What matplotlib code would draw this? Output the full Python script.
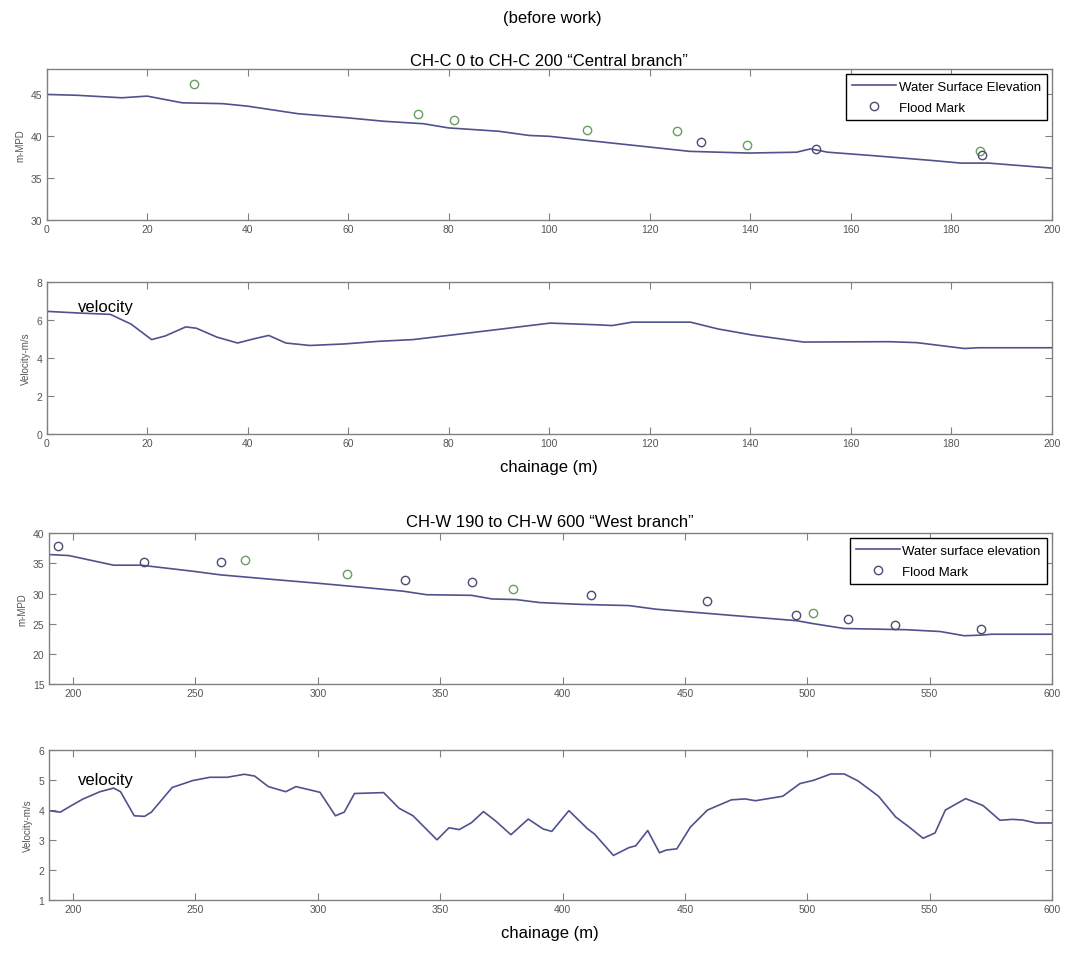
import numpy as np
import matplotlib
matplotlib.use("Agg")
from matplotlib import pyplot as plt

plt.rcParams["font.family"] = ["Liberation Sans", "DejaVu Sans"]

# ---- Central branch: water surface elevation ----
c_x = [0, 6, 15, 20, 27, 35, 40, 50, 60, 67, 75, 80, 90, 96, 100, 107.7, 128, 139.7, 149.2, 152, 155.4,
       164.2, 176.4, 181.9, 187.4, 200]
c_wse = [45.0, 44.9, 44.6, 44.8, 44.0, 43.9, 43.6, 42.7, 42.2, 41.8, 41.5, 41.0, 40.6, 40.1, 40.0, 39.5,
         38.2, 38.0, 38.1, 38.5, 38.1, 37.7, 37.1, 36.8, 36.8, 36.2]

# flood marks (g = green, b = dark)
c_fm_x = [29.4, 73.8, 81.1, 107.6, 125.5, 130.2, 139.4, 153.0, 185.6, 186.0]
c_fm_y = [46.2, 42.65, 41.95, 40.7, 40.6, 39.3, 38.95, 38.5, 38.2, 37.8]
c_fm_c = ["g", "g", "g", "g", "g", "b", "g", "b", "g", "b"]

# ---- Central branch: velocity ----
cv_x = [0, 6.5, 12.7, 16.8, 20.9, 23.6, 27.7, 29.8, 33.9, 38.0, 41.4, 44.2, 47.6, 52.4, 59.2, 66.1, 72.9,
        81.8, 90.0, 96.1, 100.2, 109.7, 112.5, 116.5, 128.1, 133.6, 140.4, 150.6, 167.6, 173.1, 182.6,
        185.3, 200]
cv_v = [6.45, 6.36, 6.29, 5.78, 4.96, 5.15, 5.63, 5.56, 5.09, 4.78, 5.01, 5.18, 4.78, 4.65, 4.73, 4.87,
        4.96, 5.24, 5.50, 5.70, 5.83, 5.74, 5.70, 5.88, 5.88, 5.52, 5.20, 4.83, 4.85, 4.80, 4.49, 4.53, 4.53]

# ---- West branch: water surface elevation ----
w_x = [190.6, 198.3, 216.6, 227.8, 248.9, 260.2, 282.7, 300.2, 316.4, 334.7, 344.5, 362.8, 371.2, 381,
       390.7, 407.5, 427.1, 438.2, 456.4, 477.4, 495.6, 502.5, 515.1, 540.3, 554.3, 564.1, 571, 575.2, 600]
w_wse = [36.46, 36.3, 34.7, 34.7, 33.7, 33.1, 32.3, 31.7, 31.1, 30.4, 29.8, 29.7, 29.1, 29.0, 28.5, 28.2,
         28.0, 27.4, 26.8, 26.1, 25.5, 25.0, 24.2, 24.0, 23.7, 23.0, 23.1, 23.25, 23.25]

w_fm_x = [193.7, 228.9, 260.6, 270.3, 311.8, 335.6, 363.2, 379.6, 411.7, 459.2, 495.3, 502.3, 516.5,
          535.8, 571.0]
w_fm_y = [37.9, 35.3, 35.3, 35.5, 33.3, 32.2, 31.9, 30.7, 29.7, 28.7, 26.5, 26.7, 25.7, 24.85, 24.05]
w_fm_c = ["b", "b", "b", "g", "g", "b", "b", "g", "b", "b", "b", "g", "b", "b", "b"]

# ---- West branch: velocity ----
wv_x = [190, 194.8, 198.3, 203.9, 211, 216.6, 219.4, 225, 229.2, 232, 240.5, 248.9, 255.9, 263, 270,
        274.2, 279.8, 286.9, 291.1, 300.9, 307.2, 310.8, 315, 326.9, 333.2, 338.9, 348.7, 353.6, 357.8,
        362.8, 367.7, 372.6, 378.9, 386, 392.1, 395.6, 402.6, 410.3, 413.1, 420.8, 427.1, 429.9, 434.8,
        439.6, 442.4, 446.7, 452.2, 459.2, 469, 474.6, 478.8, 490, 497, 502.6, 509.6, 515.1, 520.7,
        529.1, 536.1, 541.7, 547.3, 552.2, 556.4, 564.7, 571.8, 578.7, 583.7, 587.9, 593.5, 600]
wv_v = [3.97, 3.92, 4.09, 4.35, 4.60, 4.72, 4.60, 3.80, 3.78, 3.92, 4.74, 4.97, 5.08, 5.08, 5.18, 5.12,
        4.77, 4.60, 4.77, 4.58, 3.80, 3.92, 4.54, 4.57, 4.05, 3.80, 3.00, 3.40, 3.34, 3.57, 3.94, 3.63,
        3.17, 3.69, 3.36, 3.28, 3.97, 3.36, 3.19, 2.48, 2.74, 2.80, 3.31, 2.57, 2.66, 2.70, 3.42, 3.99,
        4.33, 4.36, 4.30, 4.45, 4.87, 4.98, 5.19, 5.19, 4.96, 4.45, 3.76, 3.42, 3.05, 3.23, 3.99, 4.37,
        4.14, 3.65, 3.68, 3.66, 3.56, 3.56]

line_col = "#4f528c"
mark_col = {"g": "#6a9e62", "b": "#4c4c72"}
gray = "#555555"


def style(ax):
    for s in ax.spines.values():
        s.set_color("#808080")
        s.set_linewidth(1.0)
    ax.tick_params(direction="in", top=True, right=True, length=5, width=0.8,
                   colors="#808080", labelcolor=gray, labelsize=7.5, pad=3)


def add_legend(ax):
    leg = ax.legend(loc="upper right", fontsize=9.5, fancybox=False, edgecolor="black",
                    framealpha=1, borderaxespad=0.35, handlelength=3.3, labelspacing=0.65,
                    handletextpad=0.2, borderpad=0.5)
    leg.get_frame().set_linewidth(1.0)


fig = plt.figure(figsize=(10.67, 9.54), dpi=100)

# panel 1
ax1 = fig.add_axes([0.0436, 0.7683, 0.9423, 0.158])
ax1.plot(c_x, c_wse, color=line_col, lw=1.2, label="Water Surface Elevation")
for x, y, c in zip(c_fm_x, c_fm_y, c_fm_c):
    ax1.plot(x, y, "o", mfc="none", mec=mark_col[c], ms=6, mew=1.0)
ax1.plot([], [], "o", mfc="none", mec=mark_col["b"], ms=6, mew=1.0, label="Flood Mark")
ax1.set_xlim(0, 200)
ax1.set_ylim(30, 48)
ax1.set_xticks(np.arange(0, 201, 20))
ax1.set_yticks([30, 35, 40, 45])
ax1.set_ylabel("m-MPD", fontsize=7, color=gray, labelpad=4)
add_legend(ax1)
style(ax1)
ax1.set_title("CH-C 0 to CH-C 200 \u201cCentral branch\u201d", fontsize=12, pad=3)

# panel 2
ax2 = fig.add_axes([0.0436, 0.5444, 0.9423, 0.159])
ax2.plot(cv_x, cv_v, color=line_col, lw=1.2)
ax2.set_xlim(0, 200)
ax2.set_ylim(0, 8)
ax2.set_xticks(np.arange(0, 201, 20))
ax2.set_yticks([0, 2, 4, 6, 8])
ax2.set_ylabel("Velocity-m/s", fontsize=7, color=gray, labelpad=4)
ax2.text(0.031, 0.835, "velocity", transform=ax2.transAxes, fontsize=12, va="center", ha="left")
ax2.set_xlabel("chainage (m)", fontsize=12, labelpad=8)
style(ax2)

# panel 3
ax3 = fig.add_axes([0.0455, 0.282, 0.9405, 0.158])
ax3.plot(w_x, w_wse, color=line_col, lw=1.2, label="Water surface elevation")
for x, y, c in zip(w_fm_x, w_fm_y, w_fm_c):
    ax3.plot(x, y, "o", mfc="none", mec=mark_col[c], ms=6, mew=1.0)
ax3.plot([], [], "o", mfc="none", mec=mark_col["b"], ms=6, mew=1.0, label="Flood Mark")
ax3.set_xlim(190, 600)
ax3.set_ylim(15, 40)
ax3.set_xticks(np.arange(200, 601, 50))
ax3.set_yticks([15, 20, 25, 30, 35, 40])
ax3.set_ylabel("m-MPD", fontsize=7, color=gray, labelpad=4)
add_legend(ax3)
style(ax3)
ax3.set_title("CH-W 190 to CH-W 600 \u201cWest branch\u201d", fontsize=12, pad=5)

# panel 4
ax4 = fig.add_axes([0.0455, 0.0556, 0.9405, 0.1576])
ax4.plot(wv_x, wv_v, color=line_col, lw=1.2)
ax4.set_xlim(190, 600)
ax4.set_ylim(1, 6)
ax4.set_xticks(np.arange(200, 601, 50))
ax4.set_yticks([1, 2, 3, 4, 5, 6])
ax4.set_ylabel("Velocity-m/s", fontsize=7, color=gray, labelpad=4)
ax4.text(0.029, 0.80, "velocity", transform=ax4.transAxes, fontsize=12, va="center", ha="left")
ax4.set_xlabel("chainage (m)", fontsize=12, labelpad=8)
style(ax4)

fig.text(0.518, 0.981, "(before work)", fontsize=12, ha="center", va="center")

fig.savefig("out.png", dpi=100)
